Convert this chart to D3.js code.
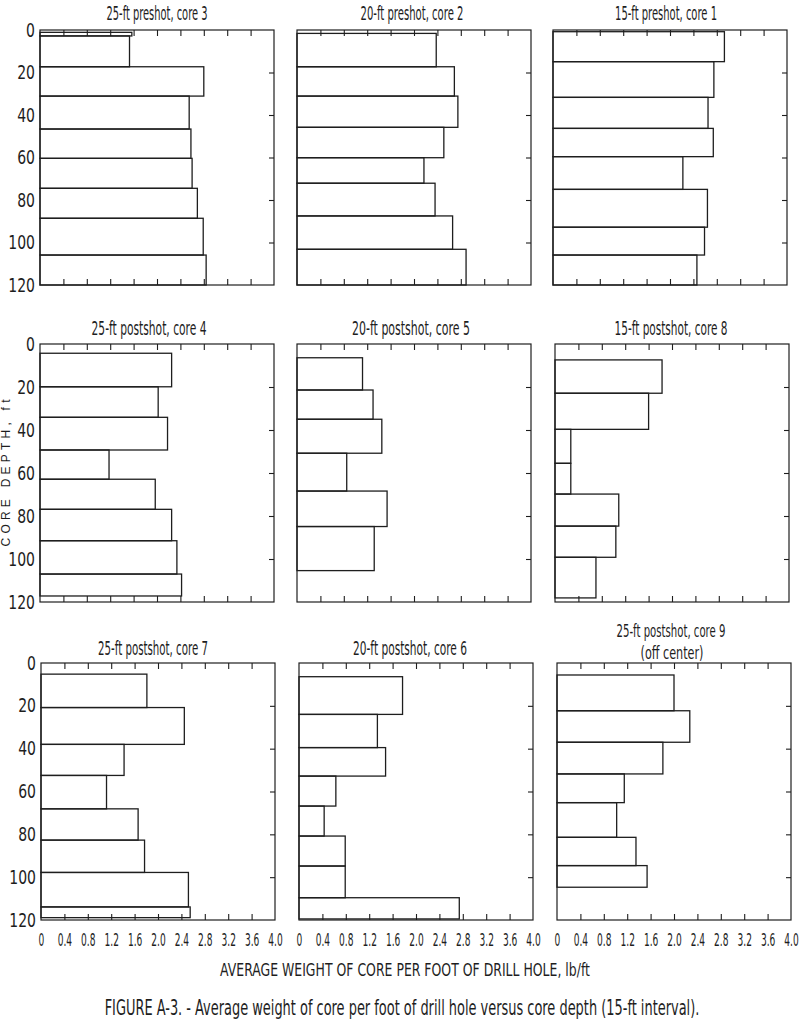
<!DOCTYPE html>
<html><head><meta charset="utf-8">
<script src="https://cdn.jsdelivr.net/npm/d3@7"></script>
<style>
body{margin:0;background:#fff}
svg{display:block}
text{font-family:"Liberation Sans Narrow","DejaVu Sans Condensed","Liberation Sans",sans-serif;fill:#1e1e1e}
</style>
</head><body>
<svg id="c" width="800" height="1033"></svg>
<script>
// ---------- data ----------
const panelTitles = [
  ["25-ft preshot, core 3"], ["20-ft preshot, core 2"], ["15-ft preshot, core 1"],
  ["25-ft postshot, core 4"], ["20-ft postshot, core 5"], ["15-ft postshot, core 8"],
  ["25-ft postshot, core 7"], ["20-ft postshot, core 6"], ["25-ft postshot, core 9", "(off center)"]
];
// depth interval edges (ft) and average weight (lb/ft) per interval
const edgesCore3 = [1.1, 2.8, 17.3, 31.1, 46.6, 60.4, 74.5, 88.6, 105.9, 120];
const weightCore3 = [1.57, 1.53, 2.80, 2.55, 2.58, 2.60, 2.69, 2.79, 2.84];
const edgesCore2 = [1.6, 17.3, 31.1, 45.8, 60.1, 72.1, 87.5, 103.2, 120];
const weightCore2 = [2.38, 2.69, 2.75, 2.51, 2.17, 2.36, 2.66, 2.89];
const edgesCore1 = [0.8, 14.9, 31.7, 46.3, 59.6, 75.0, 92.8, 105.9, 120];
const weightCore1 = [2.93, 2.75, 2.65, 2.74, 2.22, 2.64, 2.59, 2.46];
const edgesCore4 = [4.3, 19.9, 34.1, 49.3, 62.9, 76.9, 91.5, 107.0, 117.2];
const weightCore4 = [2.25, 2.02, 2.18, 1.18, 1.97, 2.25, 2.34, 2.42];
const edgesCore5 = [6.4, 21.4, 35.0, 50.8, 68.4, 84.9, 105.4];
const weightCore5 = [1.12, 1.30, 1.45, 0.85, 1.54, 1.32];
const edgesCore8 = [7.4, 22.9, 39.7, 55.5, 69.8, 84.7, 99.2, 118.1];
const weightCore8 = [1.83, 1.60, 0.27, 0.27, 1.09, 1.04, 0.70];
const edgesCore7 = [5.2, 20.8, 38.0, 52.5, 68.1, 82.7, 97.8, 113.9, 118.9];
const weightCore7 = [1.81, 2.45, 1.42, 1.12, 1.66, 1.77, 2.52, 2.55];
const edgesCore6 = [6.4, 24.0, 39.5, 52.8, 66.8, 80.8, 94.8, 109.6, 119.5];
const weightCore6 = [1.77, 1.34, 1.48, 0.63, 0.43, 0.79, 0.79, 2.74];
const edgesCore9 = [5.6, 22.3, 37.0, 51.8, 65.2, 81.4, 94.6, 104.7];
const weightCore9 = [2.00, 2.27, 1.81, 1.15, 1.02, 1.35, 1.54];

const xTickValues = [0, 0.4, 0.8, 1.2, 1.6, 2.0, 2.4, 2.8, 3.2, 3.6, 4.0];
const yTickValues = [0, 20, 40, 60, 80, 100, 120];
const xAxisTitle = "AVERAGE WEIGHT OF CORE PER FOOT OF DRILL HOLE, lb/ft";
const yAxisTitle = "CORE DEPTH, ft";
const caption = "FIGURE A-3. - Average weight of core per foot of drill hole versus core depth (15-ft interval).";

const panelEdges = [edgesCore3, edgesCore2, edgesCore1, edgesCore4, edgesCore5, edgesCore8, edgesCore7, edgesCore6, edgesCore9];
const panelWeights = [weightCore3, weightCore2, weightCore1, weightCore4, weightCore5, weightCore8, weightCore7, weightCore6, weightCore9];

// ---------- layout ----------
const colLeft = [[40, 297, 553], [40, 297, 555], [41, 299, 557]];
const plotW = 234;
const rowTop = [30, 344, 663];
const rowH = [255, 258, 257];
const titleY = [20, 335, 655];
const titleLen = [[101, 103, 102], [115, 118, 113], [110, 114, 109]];
const titleShift = [[0, -2, -4], [-8, -3, -1], [-5, -6, -3]];

const svg = d3.select("#c");
const ink = "#1e1e1e";

// place a text at (x,y), horizontally scaled to a target width
function fitText(parent, str, x, y, size, width, anchor) {
  const t = parent.append("text").attr("text-anchor", anchor || "middle")
    .attr("font-size", size).text(str);
  const w = t.node().getComputedTextLength();
  const s = w > 0 ? width / w : 1;
  t.attr("transform", `translate(${x},${y}) scale(${s},1)`);
  return t;
}

panelTitles.forEach((title, i) => {
  const r = Math.floor(i / 3), c = i % 3;
  const x0 = colLeft[r][c], y0 = rowTop[r];
  const x = d3.scaleLinear().domain([0, 4.0]).range([x0, x0 + plotW]);
  const y = d3.scaleLinear().domain([0, 120]).range([y0, y0 + rowH[r]]);
  const g = svg.append("g");

  // frame
  g.append("rect").attr("x", x(0)).attr("y", y(0))
    .attr("width", x(4) - x(0)).attr("height", y(120) - y(0))
    .attr("fill", "none").attr("stroke", ink).attr("stroke-width", 1.2);

  // ticks (inward)
  const inner = xTickValues.filter(v => v > 0 && v < 4);
  const tTop = g.append("g").attr("transform", `translate(0,${y(0)})`)
    .call(d3.axisTop(x).tickValues(inner).tickSize(-6).tickFormat(""));
  const tBot = g.append("g").attr("transform", `translate(0,${y(120)})`)
    .call(d3.axisBottom(x).tickValues(inner).tickSize(-6).tickFormat(""));
  const tRight = g.append("g").attr("transform", `translate(${x(4)},0)`)
    .call(d3.axisRight(y).tickValues(yTickValues.filter(v => v > 0 && v < 120)).tickSize(-5).tickFormat(""));
  [tTop, tBot, tRight].forEach(a => {
    a.select(".domain").remove();
    a.selectAll("line").attr("stroke", ink).attr("stroke-width", 1.1);
  });

  // bars
  const edges = panelEdges[i], w = panelWeights[i];
  g.selectAll("rect.bar").data(w).join("rect").attr("class", "bar")
    .attr("x", x(0))
    .attr("y", (d, k) => y(edges[k]))
    .attr("width", d => x(d) - x(0))
    .attr("height", (d, k) => y(edges[k + 1]) - y(edges[k]))
    .attr("fill", "none").attr("stroke", ink).attr("stroke-width", 1.3);

  // left labels
  if (c === 0) {
    const la = g.append("g").attr("transform", `translate(${x(0)},0)`)
      .call(d3.axisLeft(y).tickValues(yTickValues).tickSize(0).tickPadding(5));
    la.select(".domain").remove();
    la.selectAll("text").attr("font-size", 19).attr("fill", ink)
      .attr("transform", "scale(0.82,1)")
      .attr("x", -5 / 0.82);
  }
  // bottom labels
  if (r === 2) {
    const ba = g.append("g").attr("transform", `translate(0,${y(120)})`)
      .call(d3.axisBottom(x).tickValues(xTickValues).tickSize(0).tickPadding(13)
        .tickFormat(v => v === 0 ? "0" : d3.format(".1f")(v)));
    ba.select(".domain").remove();
    ba.selectAll("text").attr("font-size", 18).attr("fill", ink)
      .attr("transform", "scale(0.56,1)");
  }

  // titles
  const cx = (x(0) + x(4)) / 2 + titleShift[r][c];
  if (title.length === 1) {
    fitText(g, title[0], cx, titleY[r], 19, titleLen[r][c]);
  } else {
    fitText(g, title[0], cx, 637, 17, titleLen[r][c]);
    fitText(g, title[1], cx + 1, 659, 17, 63);
  }
});

// axis titles and caption
fitText(svg, xAxisTitle, 405, 976, 17, 370);
svg.append("text").attr("transform", "translate(10,473) rotate(-90)").attr("text-anchor", "middle")
  .attr("font-size", 12).attr("textLength", 147).attr("lengthAdjust", "spacing")
  .style("font-family", '"Liberation Sans","DejaVu Sans",sans-serif')
  .text(yAxisTitle);
fitText(svg, caption, 402, 1015, 22, 595);
</script>
</body></html>
